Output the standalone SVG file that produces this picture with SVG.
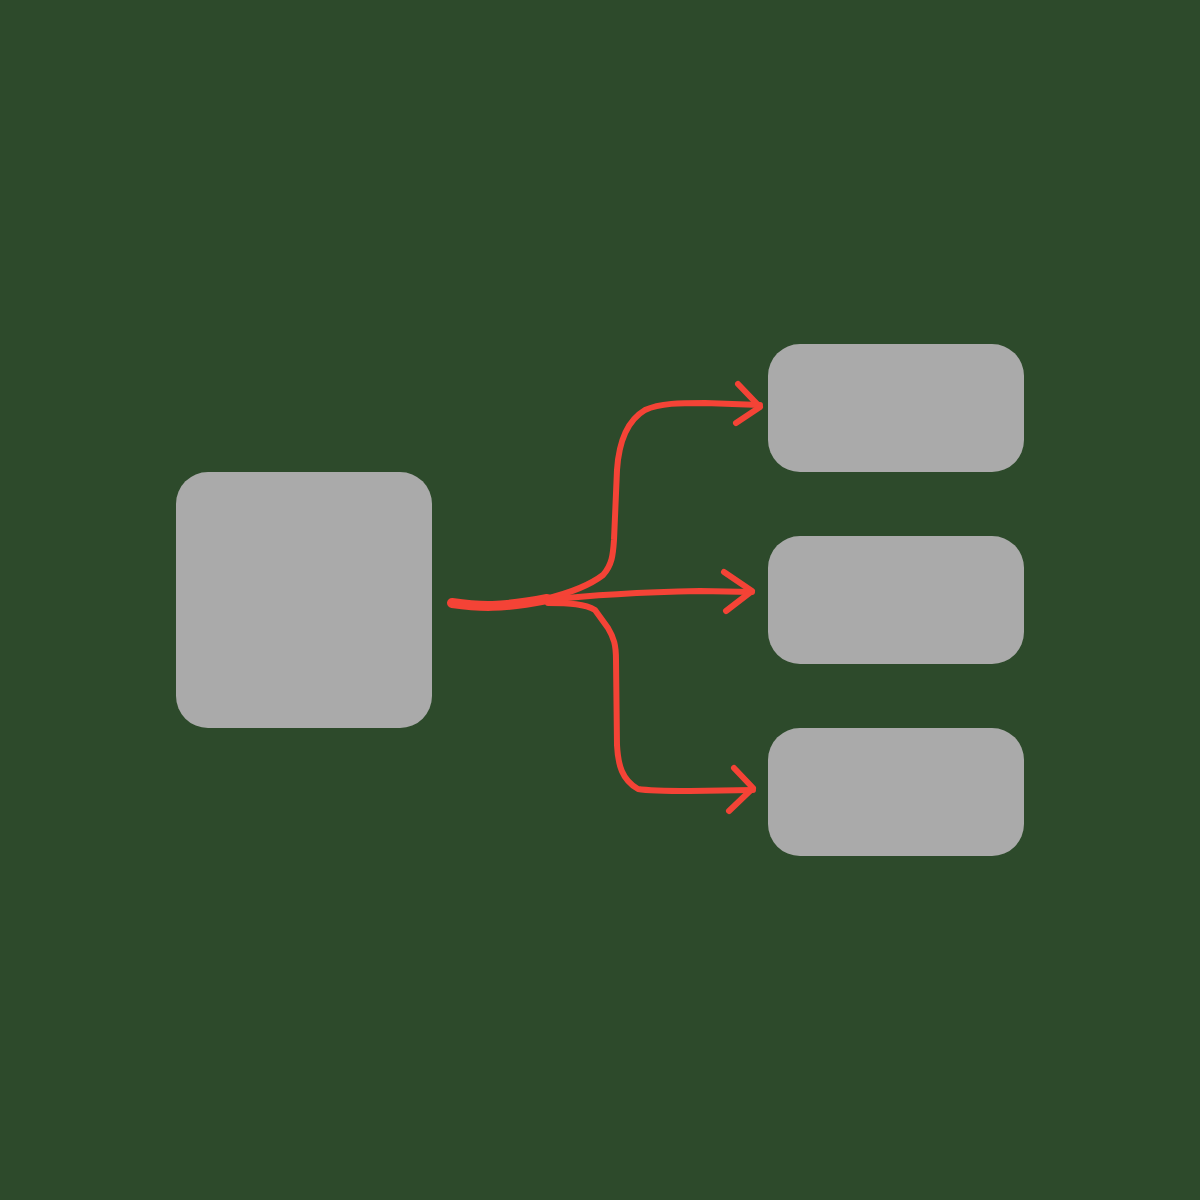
<svg xmlns="http://www.w3.org/2000/svg" width="1200" height="1200" viewBox="0 0 1200 1200">
<style>
.node{fill:#aaaaaa}
.c{fill:none;stroke:#f44336;stroke-width:6;stroke-linecap:round;stroke-linejoin:round}
.thick{stroke-width:10}
</style>
<rect width="1200" height="1200" fill="#2d4a2b"/>
<g id="source"><rect class="node" x="176" y="472" width="256" height="256" rx="32"/></g>
<g id="target1"><rect class="node" x="768" y="344" width="256" height="128" rx="32"/></g>
<g id="target2"><rect class="node" x="768" y="536" width="256" height="128" rx="32"/></g>
<g id="target3"><rect class="node" x="768" y="728" width="256" height="128" rx="32"/></g>
<g id="connectors">
<path class="c thick" d="M452,603 C480,607 500,608 547,599"/>
<path class="c" d="M545,599 C570,593 590,585 603,575 C612,565 613,555 614,540 L617,470 C619,440 628,420 645,410 C660,403 680,403 705,403 L760,405"/>
<path class="c" d="M738,384 L760,407 L736,423"/>
<path class="c" d="M548,600 C600,594 650,592 700,591 L752,592"/>
<path class="c" d="M724,572 L752,591 L726,611"/>
<path class="c" d="M548,603 C570,603 585,604 595,610 L608,628 C614,638 616,645 616,660 L617,745 C618,765 622,780 638,789 C650,791 665,791 690,791 L753,790"/>
<path class="c" d="M734,768 L753,788 L729,811"/>
</g>
</svg>
